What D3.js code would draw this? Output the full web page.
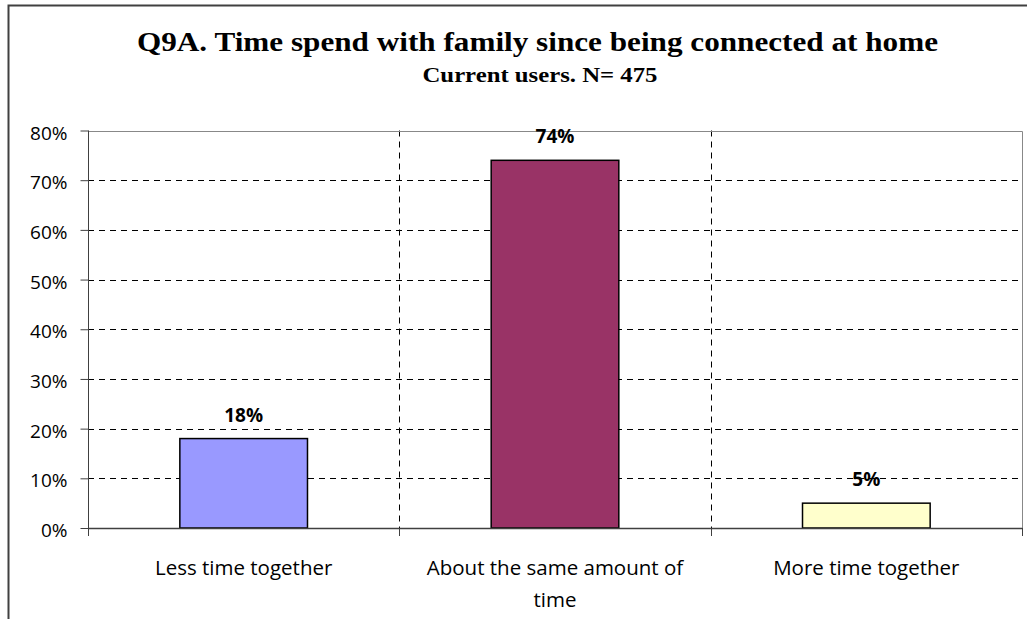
<!DOCTYPE html>
<html>
<head>
<meta charset="utf-8">
<script src="https://cdn.jsdelivr.net/npm/d3@7"></script>
<style>
  body { margin: 0; background: #fff; }
  svg { display: block; }
</style>
</head>
<body>
<div id="container"></div>
<script>
// chart data
var categories = ["Less time together", "About the same amount of time", "More time together"];
var categoryLines = [["Less time together"], ["About the same amount of", "time"], ["More time together"]];
var values = [0.18, 0.74, 0.05];
var barColors = ["#9999FF", "#993366", "#FFFFCC"];
var yTicks = [0, 0.1, 0.2, 0.3, 0.4, 0.5, 0.6, 0.7, 0.8];
var title = "Q9A. Time spend with family since being connected at home";
var subtitle = "Current users. N= 475";

var width = 1027, height = 619;
var plot = {left: 88, right: 1022, top: 130.5, bottom: 528};

var svg = d3.select("#container").append("svg")
    .attr("width", width)
    .attr("height", height);

// outer chart frame (bottom and right are cut off in the picture)
svg.append("path")
    .attr("d", "M8.5," + height + "V5.5H" + width)
    .attr("fill", "none")
    .attr("stroke", "#404040")
    .attr("stroke-width", 2);

var y = d3.scaleLinear()
    .domain([0, 0.8])
    .range([plot.bottom, plot.top]);

var x = d3.scaleBand()
    .domain(categories)
    .range([plot.left, plot.right]);

var xBar = d3.scaleBand()
    .domain(categories)
    .range([plot.left, plot.right])
    .paddingInner(0.59)
    .paddingOuter(0.295);

var g = svg.append("g");

// horizontal dashed gridlines
g.selectAll("line.hgrid")
  .data(yTicks.filter(function(d) { return d > 0 && d < 0.8; }))
  .enter().append("line")
    .attr("class", "hgrid")
    .attr("x1", plot.left).attr("x2", plot.right)
    .attr("y1", function(d) { return Math.round(y(d)) + 0.5; })
    .attr("y2", function(d) { return Math.round(y(d)) + 0.5; })
    .attr("stroke", "#000")
    .attr("stroke-dasharray", "6,5");

// vertical dashed gridlines between categories
var bounds = categories.slice(1).map(function(c) { return x(c); });
g.selectAll("line.vgrid")
  .data(bounds)
  .enter().append("line")
    .attr("class", "vgrid")
    .attr("x1", function(d) { return Math.round(d) + 0.5; })
    .attr("x2", function(d) { return Math.round(d) + 0.5; })
    .attr("y1", plot.top).attr("y2", plot.bottom)
    .attr("stroke", "#000")
    .attr("stroke-dasharray", "6,5");

// plot area border top + right (gray)
g.append("path")
    .attr("d", "M" + plot.left + "," + (Math.round(plot.top) + 0.5) + "H" + (plot.right + 0.5) + "V" + plot.bottom)
    .attr("fill", "none")
    .attr("stroke", "#888");

// bars
g.selectAll("rect.bar")
  .data(values)
  .enter().append("rect")
    .attr("class", "bar")
    .attr("x", function(d, i) { return xBar(categories[i]); })
    .attr("width", xBar.bandwidth())
    .attr("y", function(d) { return y(d); })
    .attr("height", function(d) { return y(0) - y(d); })
    .attr("fill", function(d, i) { return barColors[i]; })
    .attr("stroke", "#000")
    .attr("stroke-width", 1.5);

// value labels
g.selectAll("text.val")
  .data(values)
  .enter().append("text")
    .attr("class", "val")
    .attr("x", function(d, i) { return x(categories[i]) + x.bandwidth() / 2; })
    .attr("y", function(d) { return y(d) - 17; })
    .attr("text-anchor", "middle")
    .style("font-family", "Open Sans, sans-serif")
    .style("font-weight", "bold")
    .style("font-size", "19px")
    .text(function(d) { return d3.format(".0%")(d); });

// y axis
var yAxis = g.append("g")
    .attr("transform", "translate(" + (plot.left + 0.5) + ",0)")
    .call(d3.axisLeft(y).tickValues(yTicks).tickSize(8).tickPadding(13).tickFormat(d3.format(".0%")));
yAxis.select(".domain").attr("stroke", "#404040").attr("d", "M0," + plot.top + "V" + (plot.bottom + 8));
yAxis.selectAll(".tick line").attr("stroke", "#404040");
yAxis.selectAll(".tick text")
    .attr("dy", null)
    .attr("y", 8.5)
    .style("font-family", "Open Sans, sans-serif")
    .style("font-size", "19px")
    .attr("fill", "#000");

// x axis line and category ticks
g.append("line")
    .attr("x1", plot.left).attr("x2", plot.right + 0.5)
    .attr("y1", plot.bottom + 0.5).attr("y2", plot.bottom + 0.5)
    .attr("stroke", "#404040")
    .attr("stroke-width", 1.5);

g.selectAll("line.xtick")
  .data(bounds.concat([plot.right]))
  .enter().append("line")
    .attr("class", "xtick")
    .attr("x1", function(d) { return Math.round(d) + 0.5; })
    .attr("x2", function(d) { return Math.round(d) + 0.5; })
    .attr("y1", plot.bottom).attr("y2", plot.bottom + 8)
    .attr("stroke", "#404040");

// category labels
var catText = g.selectAll("text.cat")
  .data(categories)
  .enter().append("text")
    .attr("class", "cat")
    .attr("text-anchor", "middle")
    .style("font-family", "Open Sans, sans-serif")
    .style("font-size", "20.5px");

catText.selectAll("tspan")
  .data(function(d, i) { return categoryLines[i].map(function(t) { return {t: t, c: d}; }); })
  .enter().append("tspan")
    .attr("x", function(d) { return x(d.c) + x.bandwidth() / 2; })
    .attr("y", function(d, j) { return 575 + j * 32; })
    .text(function(d) { return d.t; });

// titles
svg.append("text")
    .attr("x", 537.5)
    .attr("y", 51)
    .attr("text-anchor", "middle")
    .attr("textLength", 801)
    .attr("lengthAdjust", "spacingAndGlyphs")
    .style("font-family", "Liberation Serif, serif")
    .style("font-weight", "bold")
    .style("font-size", "28px")
    .text(title);

svg.append("text")
    .attr("x", 540)
    .attr("y", 82)
    .attr("text-anchor", "middle")
    .attr("textLength", 235)
    .attr("lengthAdjust", "spacingAndGlyphs")
    .style("font-family", "Liberation Serif, serif")
    .style("font-weight", "bold")
    .style("font-size", "21px")
    .text(subtitle);
</script>
</body>
</html>
